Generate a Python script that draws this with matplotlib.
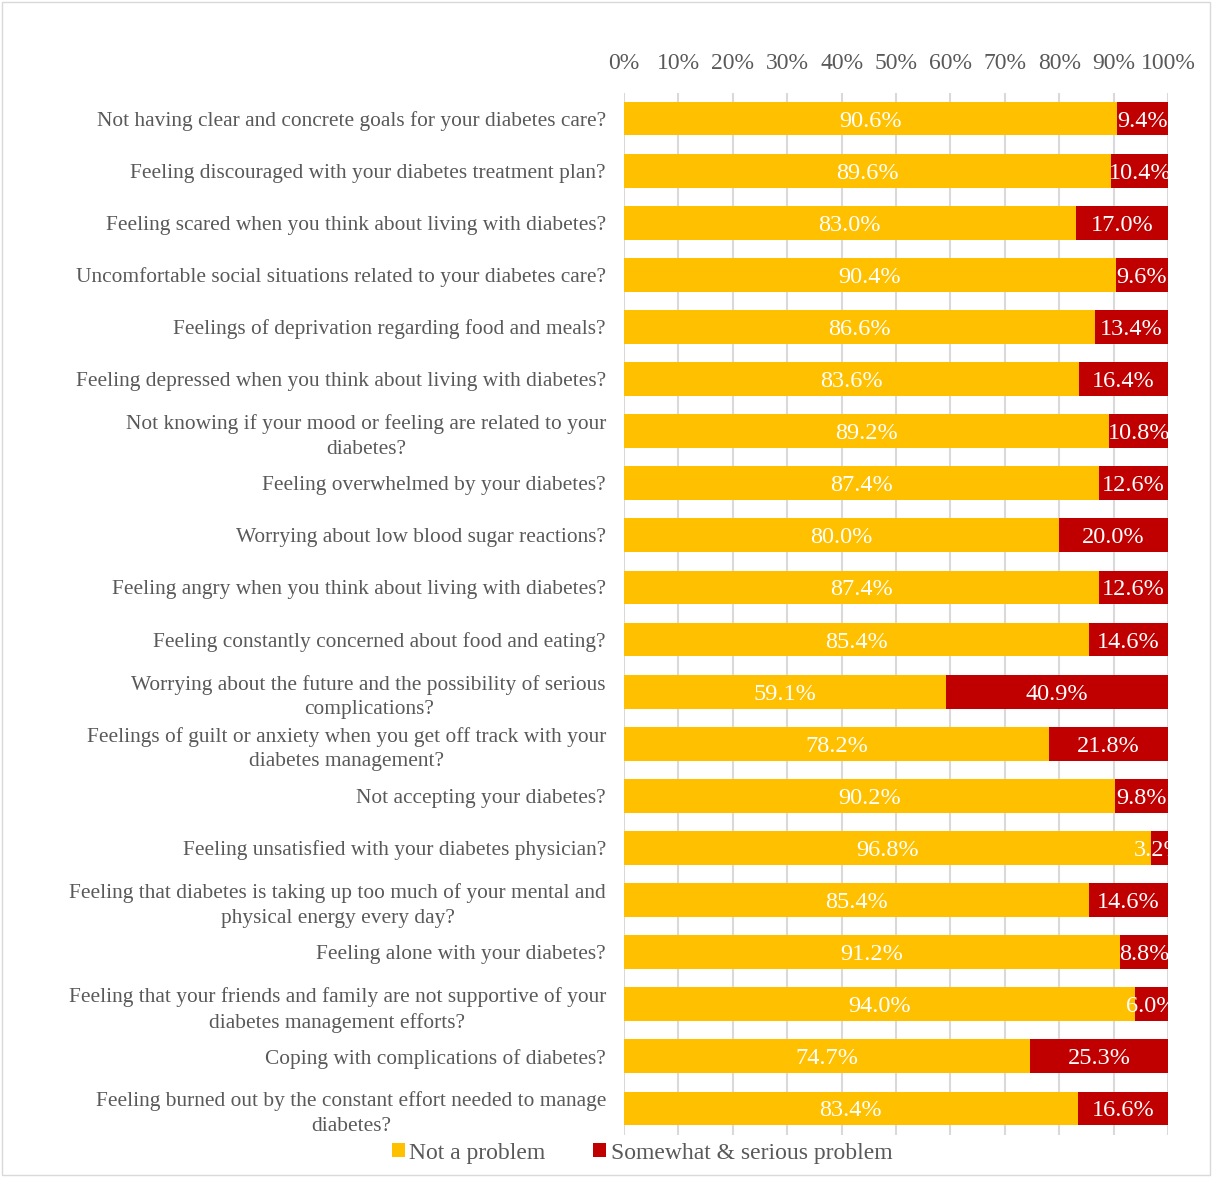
import numpy as np
import matplotlib.pyplot as plt

plt.rcParams['font.family'] = ['Liberation Serif', 'DejaVu Serif']

items = [
    "Not having clear and concrete goals for your diabetes care?",
    "Feeling discouraged with your diabetes treatment plan?",
    "Feeling scared when you think about living with diabetes?",
    "Uncomfortable social situations related to your diabetes care?",
    "Feelings of deprivation regarding food and meals?",
    "Feeling depressed when you think about living with diabetes?",
    "Not knowing if your mood or feeling are related to your\ndiabetes?",
    "Feeling overwhelmed by your diabetes?",
    "Worrying about low blood sugar reactions?",
    "Feeling angry when you think about living with diabetes?",
    "Feeling constantly concerned about food and eating?",
    "Worrying about the future and the possibility of serious\ncomplications?",
    "Feelings of guilt or anxiety when you get off track with your\ndiabetes management?",
    "Not accepting your diabetes?",
    "Feeling unsatisfied with your diabetes physician?",
    "Feeling that diabetes is taking up too much of your mental and\nphysical energy every day?",
    "Feeling alone with your diabetes?",
    "Feeling that your friends and family are not supportive of your\ndiabetes management efforts?",
    "Coping with complications of diabetes?",
    "Feeling burned out by the constant effort needed to manage\ndiabetes?",
]
not_problem = [90.6, 89.6, 83.0, 90.4, 86.6, 83.6, 89.2, 87.4, 80.0, 87.4,
               85.4, 59.1, 78.2, 90.2, 96.8, 85.4, 91.2, 94.0, 74.7, 83.4]
problem = [9.4, 10.4, 17.0, 9.6, 13.4, 16.4, 10.8, 12.6, 20.0, 12.6,
           14.6, 40.9, 21.8, 9.8, 3.2, 14.6, 8.8, 6.0, 25.3, 16.6]

yellow = '#FFC000'
red = '#C00000'
grey = '#595959'

fig = plt.figure(figsize=(12.12, 11.77), dpi=100)
ax = fig.add_axes([624 / 1212, 1 - 1134.5 / 1177, 544 / 1212, 1042 / 1177])

y = np.arange(len(items))
a = np.array(not_problem)
b = np.array(problem)
ax.barh(y, a, height=0.65, color=yellow, label='Not a problem', zorder=2)
ax.barh(y, b, left=a, height=0.65, color=red, label='Somewhat & serious problem', zorder=2)

for i in range(len(items)):
    ax.text(a[i] / 2, y[i], f'{a[i]:.1f}%', ha='center', va='center_baseline',
            color='white', fontsize=17.5, zorder=3, clip_on=True)
    ax.text(a[i] + b[i] / 2, y[i], f'{b[i]:.1f}%', ha='center', va='center_baseline',
            color='white', fontsize=17.5, zorder=3, clip_on=True)

ax.set_xlim(0, 100)
ax.set_ylim(len(items) - 0.5, -0.5)
ax.set_xticks(np.arange(0, 101, 10))
ax.set_xticklabels([f'{v}%' for v in range(0, 101, 10)])
ax.xaxis.tick_top()
ax.tick_params(axis='x', length=0, pad=13, labelsize=17, labelcolor=grey)
ax.set_yticks(y)
ax.set_yticklabels(items, fontsize=15.4, color=grey, linespacing=1.4,
                   multialignment='center')
ax.tick_params(axis='y', length=0, pad=13)
ax.grid(axis='x', color='#D9D9D9', linewidth=1.5, zorder=0)
for s in ax.spines.values():
    s.set_visible(False)

leg = fig.legend(loc='center', bbox_to_anchor=(642 / 1212, 1 - 1153 / 1177), ncol=2,
                 frameon=False, fontsize=17, handlelength=0.55, handleheight=0.55,
                 handletextpad=0.2, columnspacing=2.0)
for t in leg.get_texts():
    t.set_color(grey)

fig.patches.append(plt.Rectangle((0.002, 0.002), 0.996, 0.996, transform=fig.transFigure,
                                 fill=False, edgecolor='#D9D9D9', linewidth=1))

fig.savefig('out.png', dpi=100)
